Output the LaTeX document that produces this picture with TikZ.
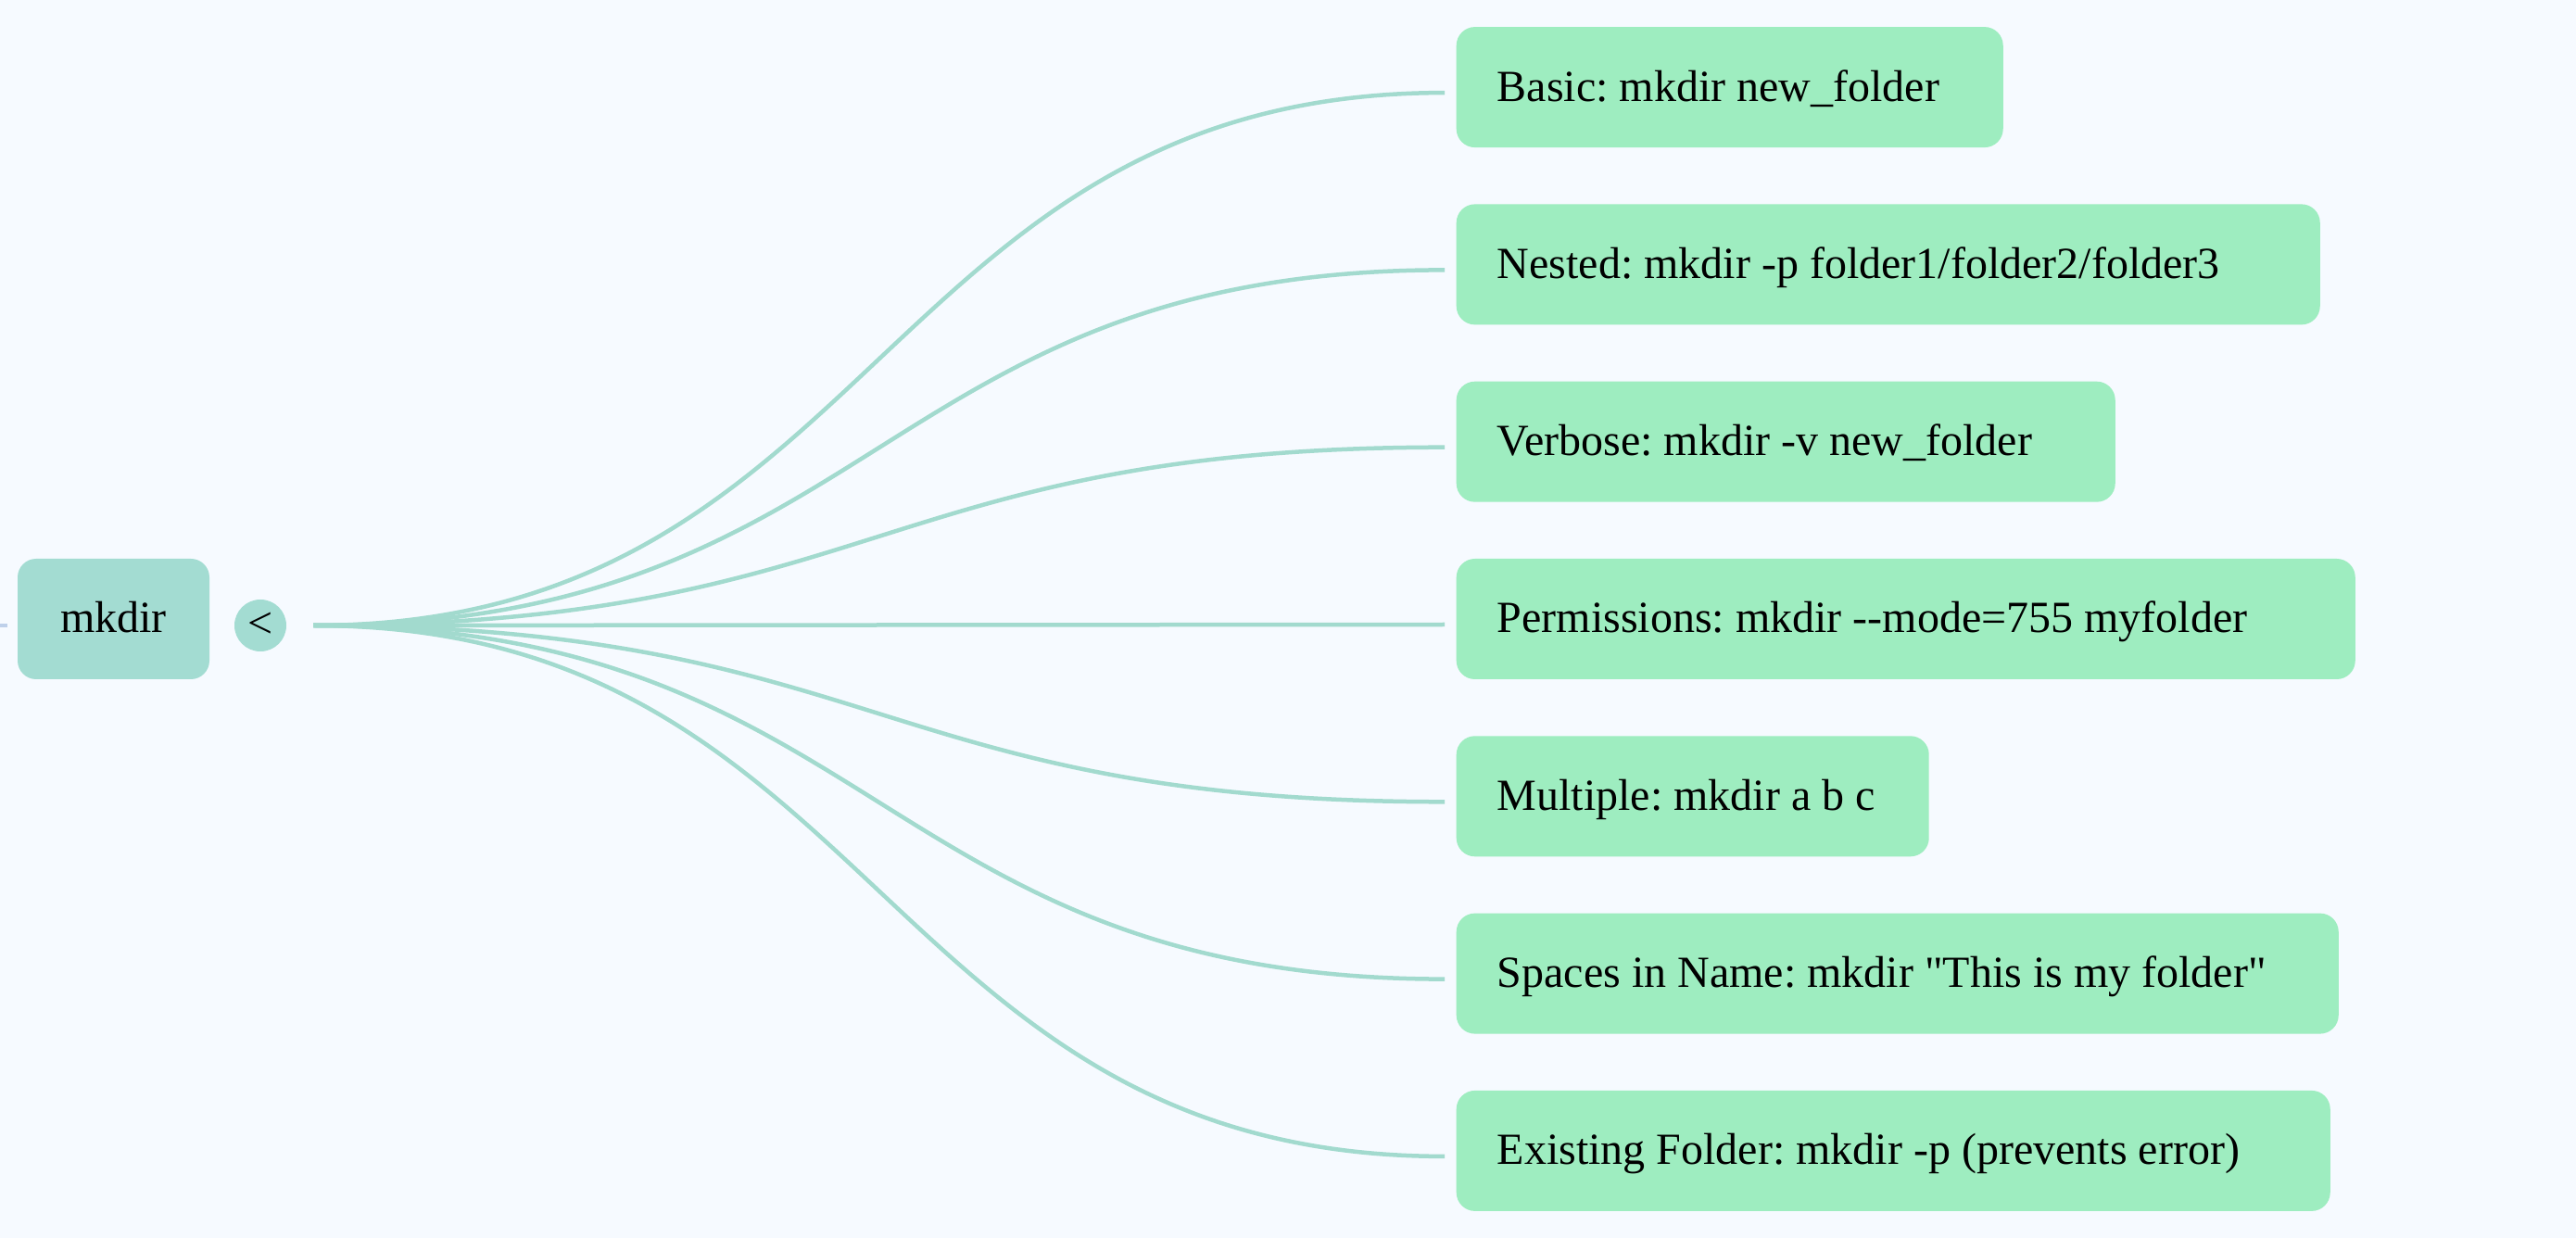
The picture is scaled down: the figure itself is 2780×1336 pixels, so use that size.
\documentclass[tikz,border=0pt]{standalone}
\usepackage{fontspec}
\setmainfont{Liberation Serif}
\usetikzlibrary{positioning}

\definecolor{bgcol}{RGB}{246,250,255}
\definecolor{rootcol}{RGB}{163,220,210}
\definecolor{leafcol}{RGB}{158,237,192}
\definecolor{linkcol}{RGB}{162,218,206}
\definecolor{stubcol}{RGB}{190,208,234}

\tikzset{
  txt/.style={font=\fontsize{13.66pt}{16pt}\selectfont\frenchspacing},
  rootbox/.style={txt, fill=rootcol, rounded corners=2mm, minimum width=20.7mm, minimum height=13mm, inner sep=0pt, text height=3.4mm, text depth=0.4mm},
  foldbtn/.style={txt, fill=rootcol, circle, minimum size=5.6mm, inner sep=0pt},
  leaf/.style={txt, fill=leafcol, rounded corners=2mm, anchor=west, minimum height=13mm, inner xsep=4.4mm, inner ysep=0pt, text height=3.4mm, text depth=0.4mm},
  link/.style={linkcol, line width=0.45mm},
}

\begin{document}
\begin{tikzpicture}[x=0.1mm, y=-0.1mm]
        \fill[bgcol] (0,0) rectangle (2780,1336);
        \useasboundingbox (0,0) rectangle (2780,1336);

        % Корень
        \coordinate (in) at (0,675);
        \draw[stubcol, line width=0.45mm] (in) -- ++(8,0);
        \node[rootbox] (root) at (122.5,668) {mkdir};
        \node[foldbtn] (fold) at (281,675) {<};
        \coordinate (hub) at (338,675);

        % Ветви
        \foreach \i/\w/\t in {
            1/590/{Basic: mkdir new\_folder},
            2/932/{Nested: mkdir -p folder1/folder2/folder3},
            3/711/{Verbose: mkdir -v new\_folder},
            4/970/{Permissions: mkdir -{}-mode=755 myfolder},
            5/510/{Multiple: mkdir a b c},
            6/952/{Spaces in Name: mkdir \textquotedbl This is my folder\textquotedbl},
            7/943/{Existing Folder: mkdir -p (prevents error)}} {
            \pgfmathsetmacro\tw{(\w-88)*0.1}
            \pgfmathsetmacro\yy{668+191.3*(\i-4)}
            \node[leaf] (b\i) at (1571,\yy) {\makebox[\tw mm][l]{\t}};
            \draw[link] (hub) .. controls +(610,0) and +(-610,0) .. ([shift={(-12,6)}]b\i.west);
        }
    \end{tikzpicture}
\end{document}
